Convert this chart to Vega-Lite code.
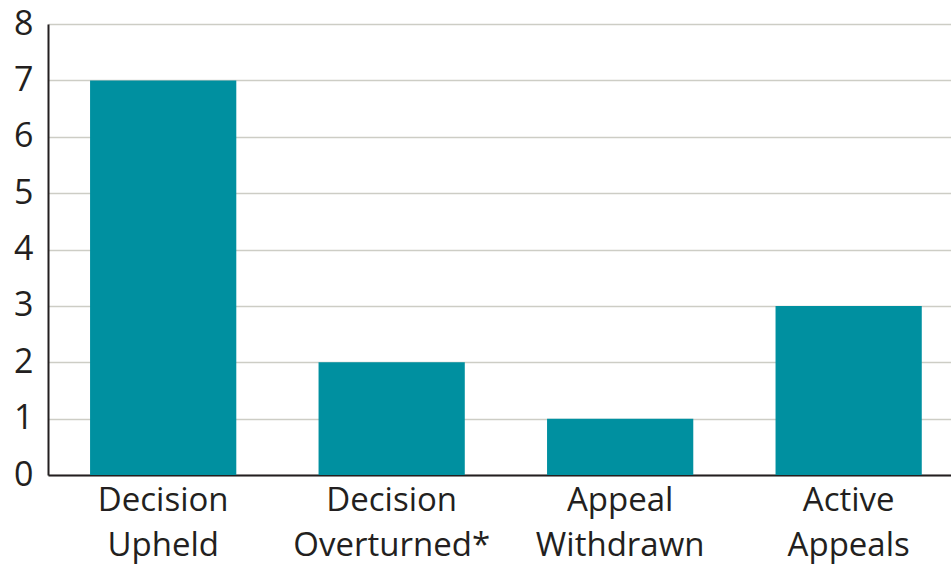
{
  "$schema": "https://vega.github.io/schema/vega-lite/v6.json",
  "autosize": "none",
  "width": 903,
  "height": 451,
  "padding": {"left": 48, "top": 24, "right": 0, "bottom": 90},
  "background": "white",
  "config": {"view": {"stroke": null}},
  "data": {
    "values": [
      {"category": "Decision|Upheld", "count": 7},
      {"category": "Decision|Overturned*", "count": 2},
      {"category": "Appeal|Withdrawn", "count": 1},
      {"category": "Active|Appeals", "count": 3}
    ]
  },
  "mark": {"type": "bar", "color": "#0090a0"},
  "encoding": {
    "x": {
      "field": "category",
      "type": "nominal",
      "sort": null,
      "scale": {"paddingInner": 0.36, "paddingOuter": 0.156, "align": 0.59},
      "axis": {
        "title": null,
        "labelAngle": 0,
        "labelExpr": "split(datum.label, '|')",
        "labelFont": "Open Sans",
        "labelFontSize": 33,
        "labelColor": "#231f20",
        "labelLineHeight": 45,
        "labelPadding": 9,
        "labelLimit": 400,
        "ticks": false,
        "domainColor": "#231f20",
        "domainWidth": 2
      }
    },
    "y": {
      "field": "count",
      "type": "quantitative",
      "scale": {"domain": [0, 8]},
      "axis": {
        "title": null,
        "values": [0, 1, 2, 3, 4, 5, 6, 7, 8],
        "labelFont": "Open Sans",
        "labelFontSize": 34,
        "labelColor": "#231f20",
        "labelPadding": 15,
        "ticks": false,
        "domainColor": "#231f20",
        "domainWidth": 2,
        "grid": true,
        "gridColor": "#cdcdc5",
        "gridWidth": 1.5
      }
    }
  }
}
